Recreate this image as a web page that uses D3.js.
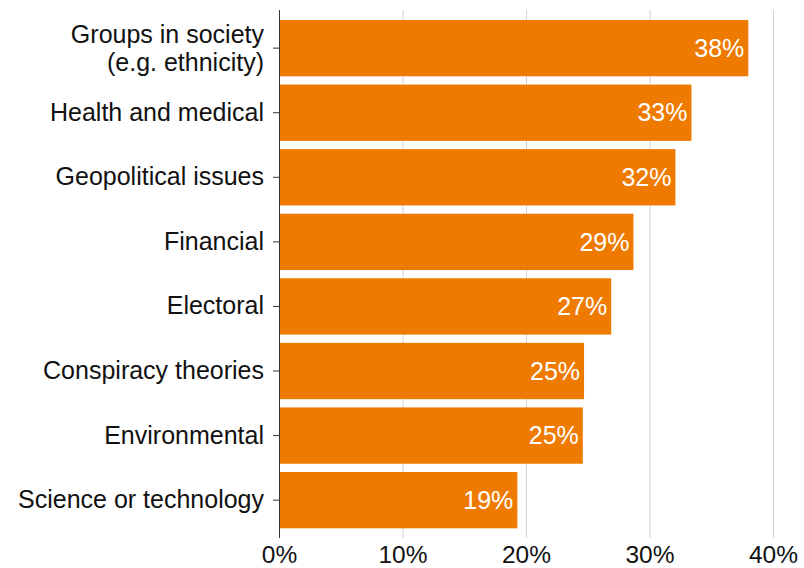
<!DOCTYPE html>
<html>
<head>
<meta charset="utf-8">
<script src="https://cdn.jsdelivr.net/npm/d3@7"></script>
<style>
  body { margin: 0; background: #fff; }
  text { font-family: "Liberation Sans", Arial, Helvetica, sans-serif; }
</style>
</head>
<body>
<div id="chart"></div>
<script>
// Data
var categories = [
    "Groups in society|(e.g. ethnicity)",
    "Health and medical",
    "Geopolitical issues",
    "Financial",
    "Electoral",
    "Conspiracy theories",
    "Environmental",
    "Science or technology"
];
var values = [38.0, 33.4, 32.1, 28.7, 26.9, 24.7, 24.6, 19.3];
var tickValues = [0, 10, 20, 30, 40];

var data = categories.map(function (c, i) { return { name: c, value: values[i] }; });

// Set up sizes
var margin = { top: 10, right: 31, bottom: 30, left: 279 },
    width = 804 - margin.left - margin.right,
    height = 568 - margin.top - margin.bottom;

var svg = d3.select("#chart")
    .append("svg")
    .attr("width", 804)
    .attr("height", 568)
    .append("g")
    .attr("transform", "translate(" + margin.left + "," + margin.top + ")");

var x = d3.scaleLinear()
    .domain([0, 40])
    .range([0, width]);

var y = d3.scaleBand()
    .domain(categories)
    .range([5.85, 522.45])
    .paddingInner(0.128)
    .paddingOuter(0.064);

// Gridlines + bottom tick labels
var xAxis = svg.append("g")
    .attr("transform", "translate(0," + height + ")")
    .call(d3.axisBottom(x)
        .tickValues(tickValues)
        .tickSize(-height)
        .tickPadding(8)
        .tickFormat(function (d) { return d + "%"; }));

xAxis.select(".domain").remove();
xAxis.selectAll(".tick line").attr("stroke", "#d2d2d2");
xAxis.selectAll(".tick text")
    .attr("fill", "#111")
    .style("font-size", "24.5px");

// Bars
svg.selectAll("rect.bar")
    .data(data)
    .enter()
    .append("rect")
    .attr("class", "bar")
    .attr("x", x(0))
    .attr("y", function (d) { return y(d.name); })
    .attr("width", function (d) { return x(d.value) - x(0); })
    .attr("height", y.bandwidth())
    .attr("fill", "#ef7a00");

// Value labels inside bars
svg.selectAll("text.val")
    .data(data)
    .enter()
    .append("text")
    .attr("class", "val")
    .attr("x", function (d) { return x(d.value) - 4; })
    .attr("y", function (d) { return y(d.name) + y.bandwidth() / 2; })
    .attr("dy", "0.35em")
    .attr("text-anchor", "end")
    .attr("fill", "#fff")
    .style("font-size", "25px")
    .text(function (d) { return Math.round(d.value) + "%"; });

// Left axis with category labels
var yAxis = svg.append("g")
    .call(d3.axisLeft(y).tickSize(6).tickPadding(9).tickSizeOuter(0));

yAxis.select(".domain")
    .attr("stroke", "#333")
    .attr("d", "M0.5,0V" + height);
yAxis.selectAll(".tick line").attr("stroke", "#333");

yAxis.selectAll(".tick text")
    .attr("fill", "#111")
    .style("font-size", "25px")
    .each(function (d) {
        var lines = d.split("|");
        if (lines.length > 1) {
            var t = d3.select(this).text(null);
            lines.forEach(function (l, i) {
                t.append("tspan")
                    .attr("x", t.attr("x"))
                    .attr("dy", i === 0 ? "-0.2em" : "1.12em")
                    .text(l);
            });
        }
    });
</script>
</body>
</html>
